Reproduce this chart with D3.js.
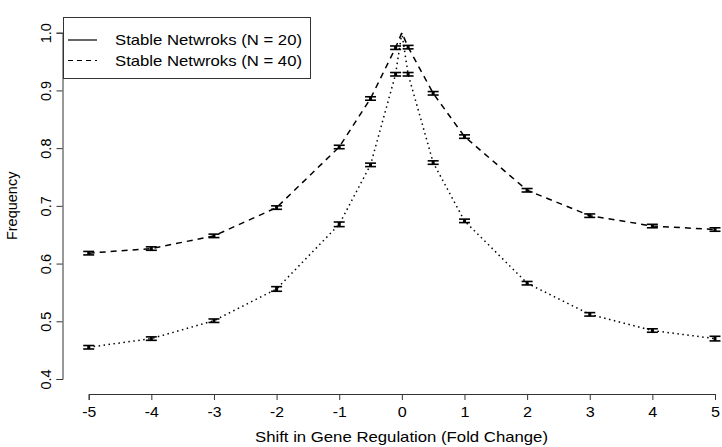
<!DOCTYPE html>
<html>
<head>
<meta charset="utf-8">
<script src="https://cdn.jsdelivr.net/npm/d3@7"></script>
<style>
  body { margin: 0; background: #fff; }
  svg { font-family: "Liberation Sans", Arial, sans-serif; }
</style>
</head>
<body>
<script>
// data
const shifts = [-5, -4, -3, -2, -1, -0.5, -0.1, 0, 0.1, 0.5, 1, 2, 3, 4, 5];
const upperFreq = [0.618, 0.626, 0.648, 0.697, 0.802, 0.886, 0.974, 1.0, 0.975, 0.895, 0.820, 0.727, 0.683, 0.665, 0.659];
const upperErr = [0.003, 0.003, 0.003, 0.003, 0.003, 0.003, 0.003, 0, 0.003, 0.003, 0.003, 0.003, 0.003, 0.003, 0.003];
const lowerFreq = [0.455, 0.470, 0.501, 0.556, 0.668, 0.771, 0.928, 1.0, 0.928, 0.775, 0.674, 0.566, 0.512, 0.484, 0.470];
const lowerErr = [0.003, 0.003, 0.003, 0.004, 0.004, 0.003, 0.003, 0, 0.003, 0.003, 0.003, 0.003, 0.003, 0.003, 0.004];
const xTicks = [-5, -4, -3, -2, -1, 0, 1, 2, 3, 4, 5];
const yTicks = [0.4, 0.5, 0.6, 0.7, 0.8, 0.9, 1.0];
const legendLabels = ["Stable Netwroks (N = 20)", "Stable Netwroks (N = 40)"];

const width = 722;
const height = 447;

const svg = d3.select("body").append("svg")
  .attr("width", width)
  .attr("height", height);

// scales
const x = d3.scaleLinear().domain([-5, 5]).range([88.7, 715]);
const y = d3.scaleLinear().domain([0.4, 1.0]).range([379, 32.7]);

// axes, R style (no box)
const xAxis = svg.append("g")
  .attr("transform", "translate(0,394)")
  .call(d3.axisBottom(x).tickValues(xTicks).tickFormat(d3.format("d"))
    .tickSizeOuter(0).tickSize(6).tickPadding(7));
xAxis.selectAll("text").attr("font-size", 14.5).attr("fill", "#000")
  .text(d => d < 0 ? "-" + Math.abs(d) : d)
  .attr("textLength", d => d < 0 ? 14 : 9)
  .attr("lengthAdjust", "spacingAndGlyphs");

const yAxis = svg.append("g")
  .attr("transform", "translate(62.5,0)")
  .call(d3.axisLeft(y).tickValues(yTicks).tickFormat(d3.format(".1f"))
    .tickSizeOuter(0).tickSize(6));
yAxis.selectAll("text")
  .attr("font-size", 14.5)
  .attr("fill", "#000")
  .attr("text-anchor", "middle")
  .attr("transform", "rotate(-90)")
  .attr("x", 0)
  .attr("y", -12)
  .attr("dy", null);

svg.selectAll(".domain, .tick line").attr("stroke", "#333");
xAxis.attr("font-family", null);
yAxis.attr("font-family", null);

// axis titles
svg.append("text")
  .attr("x", 401.5)
  .attr("y", 442)
  .attr("text-anchor", "middle")
  .attr("font-size", 14.5)
  .attr("textLength", 293)
  .attr("lengthAdjust", "spacingAndGlyphs")
  .text("Shift in Gene Regulation (Fold Change)");

svg.append("text")
  .attr("transform", "translate(17," + (y(0.7)) + ") rotate(-90)")
  .attr("text-anchor", "middle")
  .attr("font-size", 14.5)
  .text("Frequency");

// series
const series = [
  { vals: upperFreq, err: upperErr, dash: "6,5" },
  { vals: lowerFreq, err: lowerErr, dash: "1.5,3.5" }
];

const line = d3.line()
  .x(d => x(d[0]))
  .y(d => y(d[1]));

series.forEach(s => {
  const pts = shifts.map((v, i) => [v, s.vals[i], s.err[i]]);

  svg.append("path")
    .datum(pts)
    .attr("d", line)
    .attr("fill", "none")
    .attr("stroke", "#000")
    .attr("stroke-width", 1.5)
    .attr("stroke-dasharray", s.dash);

  const bars = svg.append("g")
    .selectAll("g")
    .data(pts.filter(d => d[2] > 0))
    .join("g");

  bars.append("line")
    .attr("x1", d => x(d[0]))
    .attr("x2", d => x(d[0]))
    .attr("y1", d => y(d[1] - d[2]))
    .attr("y2", d => y(d[1] + d[2]))
    .attr("stroke", "#000")
    .attr("stroke-width", 3);

  [-1, 1].forEach(sign => {
    bars.append("line")
      .attr("x1", d => x(d[0]) - 5.5)
      .attr("x2", d => x(d[0]) + 5.5)
      .attr("y1", d => y(d[1] + sign * d[2]))
      .attr("y2", d => y(d[1] + sign * d[2]))
      .attr("stroke", "#000")
      .attr("stroke-width", 1.6);
  });
});

// legend
const legend = svg.append("g");
legend.append("rect")
  .attr("x", 63.5)
  .attr("y", 17.5)
  .attr("width", 247)
  .attr("height", 61)
  .attr("fill", "#fff")
  .attr("stroke", "#333");

const legendDash = [null, "5,4"];
legendLabels.forEach((label, i) => {
  const ly = 40 + i * 20.5;
  legend.append("line")
    .attr("x1", 68)
    .attr("x2", 97)
    .attr("y1", ly)
    .attr("y2", ly)
    .attr("stroke", "#000")
    .attr("stroke-width", 1.2)
    .attr("stroke-dasharray", legendDash[i]);
  legend.append("text")
    .attr("x", 115)
    .attr("y", ly)
    .attr("dy", "0.36em")
    .attr("font-size", 14.5)
    .attr("textLength", 187)
    .attr("lengthAdjust", "spacingAndGlyphs")
    .text(label);
});
</script>
</body>
</html>
